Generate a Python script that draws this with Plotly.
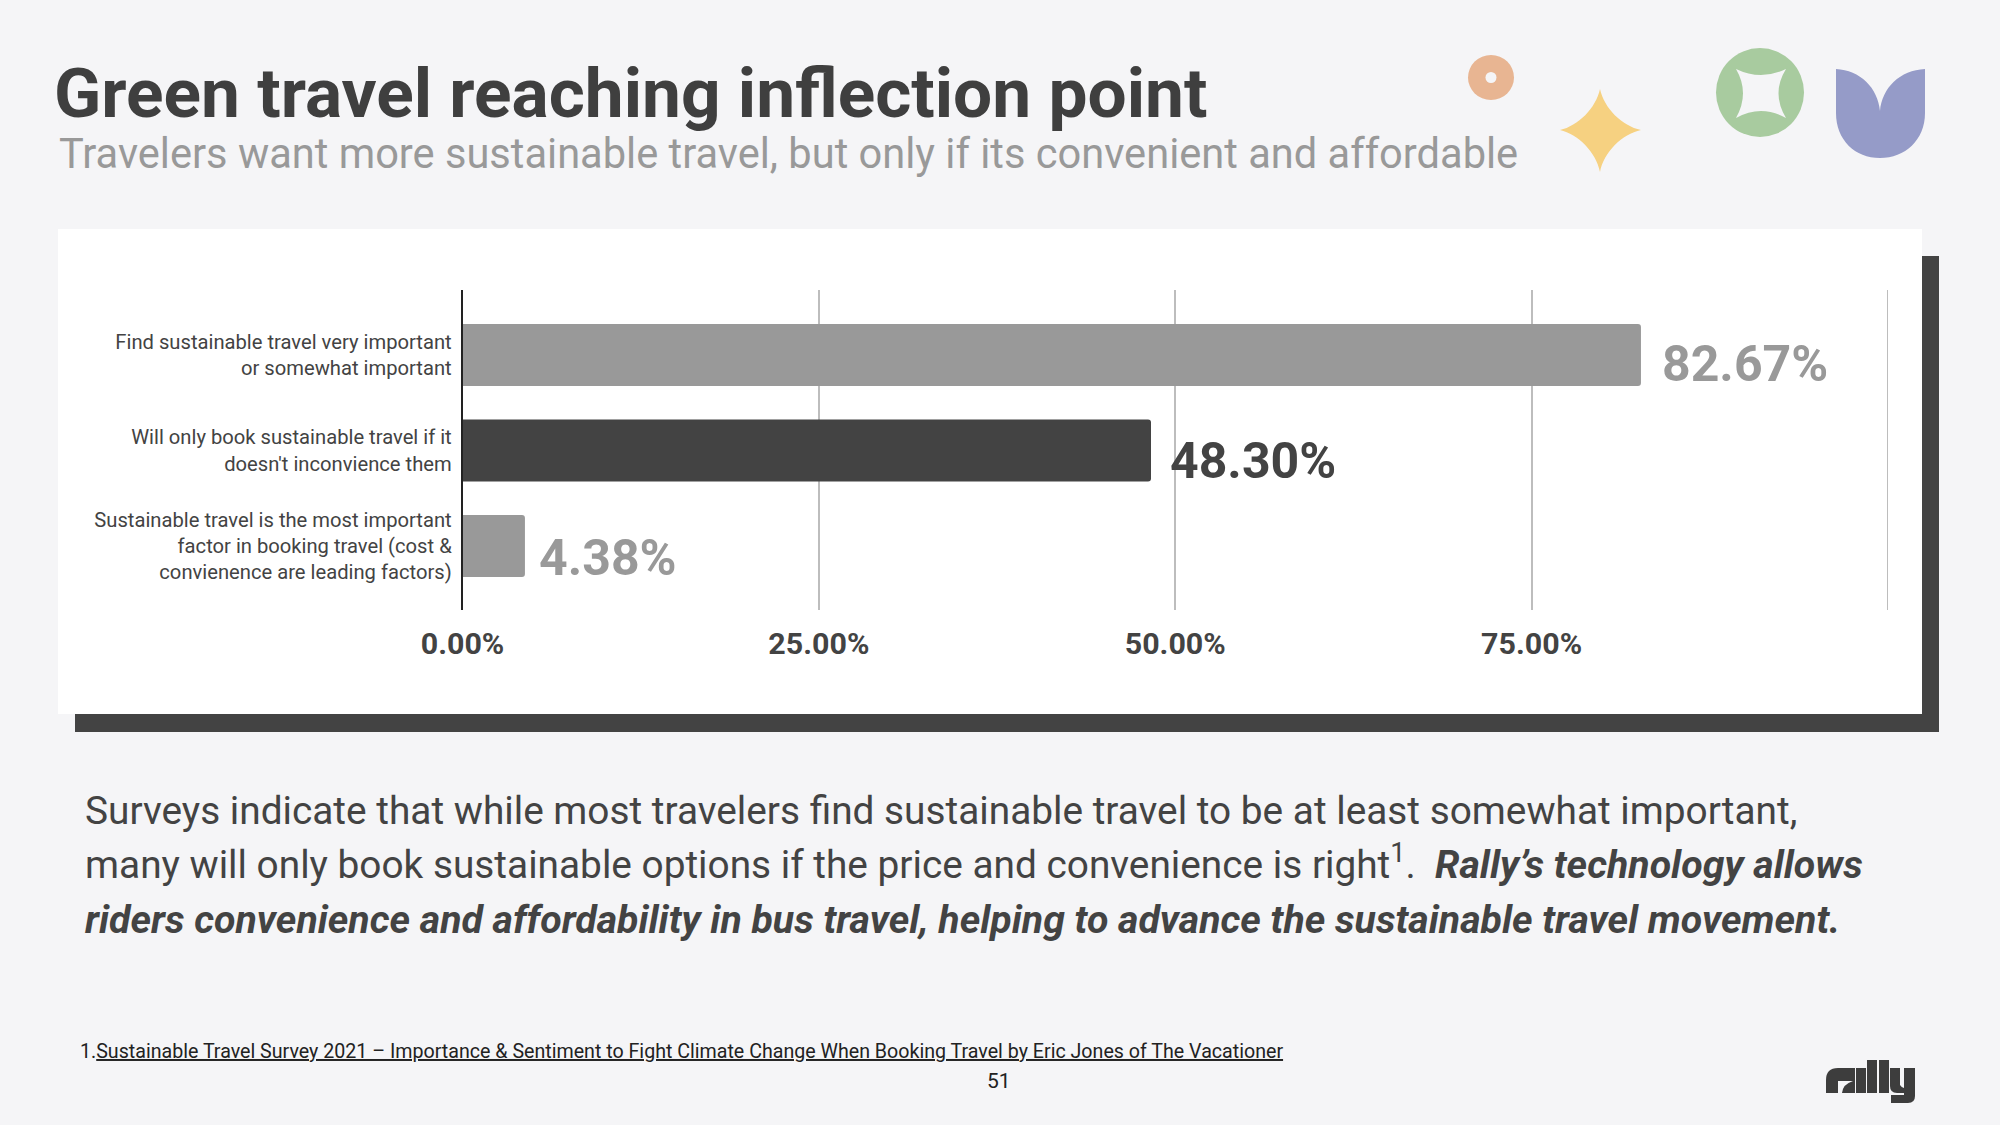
import plotly.graph_objects as go

categories = [
    "Find sustainable travel very important<br>or somewhat important",
    "Will only book sustainable travel if it<br>doesn't inconvience them",
    "Sustainable travel is the most important<br>factor in booking travel (cost &<br>convienence are leading factors)",
]
values = [82.67, 48.30, 4.38]
value_labels = ["82.67%", "48.30%", "4.38%"]
bar_colors = ["#999999", "#434343", "#999999"]
tick_values = [0, 25, 50, 75]
tick_labels = ["0.00%", "25.00%", "50.00%", "75.00%"]
outer_gridline = 100

W, H = 2000, 1125
BG = "#F5F5F7"
DARK = "#434343"
FONT = "Roboto"

def X(v): return v / W
def Y(v): return 1 - v / H

def px_shape(kind, x0, y0, x1, y1, color, layer="below"):
    return dict(type=kind, xref="paper", yref="paper", x0=X(x0), x1=X(x1), y0=Y(y1), y1=Y(y0),
                fillcolor=color, line_width=0, layer=layer)

def px_path(cmds, color):
    out = []
    for c in cmds:
        if isinstance(c, str):
            out.append(c)
        else:
            out.append(f"{X(c[0]):.5f},{Y(c[1]):.5f}")
    return dict(type="path", xref="paper", yref="paper", path=" ".join(out), fillcolor=color, line_width=0, layer="below")

shapes = [
    px_shape("rect", 75, 256, 1939, 732, DARK),
    px_shape("rect", 58, 229, 1922, 714, "#FFFFFF"),
    dict(type="line", xref="x", yref="paper", x0=outer_gridline, x1=outer_gridline, y0=Y(610), y1=Y(290),
         line=dict(color="#BDBDBD", width=2), layer="below"),
    # orange donut
    px_shape("circle", 1468, 55, 1514, 100, "#E8B592"),
    px_shape("circle", 1485.5, 72, 1496.5, 83, BG),
    # star
    px_path(["M", (1600, 89), "C", (1604, 108), (1622, 126), (1641, 130),
             "C", (1622, 134), (1604, 152), (1600, 172),
             "C", (1596, 152), (1578, 134), (1560, 130),
             "C", (1578, 126), (1596, 108), (1600, 89), "Z"], "#F6D181"),
    # green circle with concave square
    px_shape("circle", 1716, 48, 1804, 137, "#A8CB9F"),
    px_path(["M", (1736, 69), "Q", (1761, 81), (1786, 69), "Q", (1771, 93), (1786, 118),
             "Q", (1761, 104), (1736, 118), "Q", (1750, 93), (1736, 69), "Z"], BG),
    # tulip
    px_path(["M", (1836, 69), "C", (1860, 70), (1878, 88), (1880, 111), "C", (1882, 88), (1900, 70), (1925, 69),
             "L", (1925, 113), "C", (1925, 140), (1905, 158), (1880, 158),
             "C", (1855, 158), (1836, 140), (1836, 113), "Z"], "#959BC8"),
    # rally logo
    px_path(["M", (1826, 1093), "L", (1826, 1080), "Q", (1826, 1068), (1838, 1068), "L", (1855, 1068),
             "L", (1855, 1093), "L", (1842, 1093), "Q", (1843, 1084), (1853, 1081), "L", (1838, 1081),
             "L", (1838, 1093), "Z"], "#3D3D3D"),
    px_shape("rect", 1867, 1060, 1877, 1093, "#3D3D3D"),
    px_shape("rect", 1879, 1060, 1889, 1093, "#3D3D3D"),
    px_shape("rect", 1856, 1068, 1866, 1093, "#3D3D3D"),
    px_path(["M", (1890, 1068), "L", (1900, 1068), "L", (1900, 1085), "Q", (1902, 1088), (1904, 1088),
             "L", (1904, 1068), "L", (1915, 1068), "L", (1915, 1096), "Q", (1915, 1103), (1908, 1103),
             "L", (1891, 1103), "L", (1891, 1095), "L", (1904, 1095), "L", (1904, 1093), "L", (1897, 1093),
             "Q", (1890, 1093), (1890, 1086), "Z"], "#3D3D3D"),
]

def T(x, y, text, size, color, anchor="left"):
    return dict(xref="paper", yref="paper", x=X(x), y=Y(y), text=text, showarrow=False, xanchor=anchor,
                yanchor="middle", align="left", font=dict(family=FONT, size=size, color=color),
                borderpad=0, borderwidth=0)

annotations = [
    T(54, 93, "<b>Green travel reaching inflection point</b>", 69.4, "#3F3F3F"),
    T(59, 154, "Travelers want more sustainable travel, but only if its convenient and affordable", 41.6, "#999999"),
    T(85, 810.5, "Surveys indicate that while most travelers find sustainable travel to be at least somewhat important,", 38.8, DARK),
    T(85, 862, "many will only book sustainable options if the price and convenience is right<sup>1</sup>.  <span style=\"font-size:39.26px\"><b><i>Rally’s technology allows</i></b></span>", 38.8, DARK),
    T(85, 919.5, "<b><i>riders convenience and affordability in bus travel, helping to advance the sustainable travel movement.</i></b>", 39.26, DARK),
    T(80, 1051, "1.<u>Sustainable Travel Survey 2021 – Importance &amp; Sentiment to Fight Climate Change When Booking Travel by Eric Jones of The Vacationer</u>", 19.64, "#222222"),
    T(999, 1081, "51", 21, "#222222", anchor="center"),
]
label_xshift = [19, 17, 12]
label_yshift = [-9, -10.5, -12]
for cat, val, lab, col, xs, ys in zip(categories, values, value_labels, bar_colors, label_xshift, label_yshift):
    annotations.append(dict(x=val, y=cat, xref="x", yref="y", text=f"<b>{lab}</b>", showarrow=False, xanchor="left",
                            yanchor="middle", xshift=xs, yshift=ys, font=dict(family=FONT, size=50, color=col)))

fig = go.Figure(go.Bar(
    y=categories, x=values, orientation="h", width=0.65,
    marker=dict(color=bar_colors, line_width=0, cornerradius=3),
    hoverinfo="skip",
))
fig.update_layout(
    width=W, height=H, margin=dict(l=0, r=0, t=0, b=0, pad=0), autosize=False,
    paper_bgcolor=BG, plot_bgcolor="rgba(0,0,0,0)", showlegend=False,
    shapes=shapes, annotations=annotations,
    font=dict(family=FONT),
    xaxis=dict(domain=[X(462.5), X(1888)], range=[0, 100], tickvals=tick_values, ticktext=tick_labels, automargin=False,
               showgrid=True, gridcolor="#BDBDBD", gridwidth=2, zeroline=False, showline=False,
               ticks="", ticklabelstandoff=13, tickfont=dict(family=FONT, size=30.4, color=DARK, weight="bold")),
    yaxis=dict(domain=[Y(610), Y(290)], range=[2.67, -0.68], type="category", categoryorder="array", automargin=False,
               categoryarray=categories, showgrid=False, zeroline=False, showline=True, linecolor="#222222",
               linewidth=1.5, ticks="", ticklabelstandoff=5,
               tickfont=dict(family=FONT, size=20.2, color=DARK)),
)
fig.write_html("out.html", config=dict(displayModeBar=False),
               post_script="document.body.style.margin='0';document.documentElement.style.overflow='hidden';")
